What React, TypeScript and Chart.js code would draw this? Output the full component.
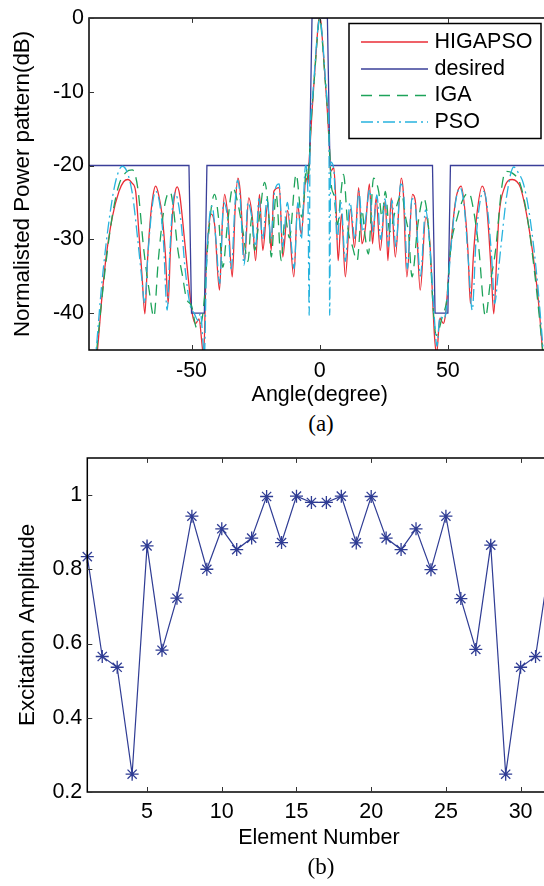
import { useEffect, useRef } from 'react';
import { Chart, registerables } from 'chart.js';

Chart.register(...registerables);

const FONT = "'Liberation Sans', Arial, Helvetica, sans-serif";
const FS = 21.5;
const FS_YT = 22.3;

// ---------- (a) power pattern: [angle (deg), normalised power (dB)] ----------
const higapso: [number, number][] = [
  [-89, -52], [-86.7, -45], [-85, -38], [-83.5, -32.9], [-80.9, -27], [-78.3, -23.5], [-76.5, -22.2], [-74.8, -21.9],
  [-73.2, -22.4], [-71.8, -23.5], [-70.5, -29.3], [-69.3, -35], [-68.2, -40.1], [-67.2, -33], [-66, -27], [-65, -24],
  [-64, -22.8], [-62.8, -24], [-61.4, -27], [-60.2, -32], [-59.1, -38.7], [-58.3, -32], [-57.5, -27], [-56.5, -23.8],
  [-55.6, -22.9], [-54.6, -24], [-53.6, -27], [-51.7, -33.8], [-49.7, -40.1], [-48.4, -41.4], [-47.1, -40.8],
  [-45.8, -44.6], [-45.3, -46], [-44.3, -33.8], [-43.3, -28.5], [-42.3, -26.6], [-41, -28], [-39.1, -36.9], [-38, -28],
  [-37.1, -23.9], [-35.8, -27], [-34.1, -35.1], [-33, -26], [-31.9, -21.7], [-31, -23.5], [-29.3, -32.9], [-27.7, -24.4],
  [-26.3, -27], [-25, -32.9], [-23.5, -23.9], [-22.2, -31.5], [-20.3, -25.2], [-18.9, -31.5], [-17.9, -23.5],
  [-15.7, -23], [-14.4, -32.4], [-12.5, -26.1], [-10.1, -35.1], [-8.6, -25.2], [-7.2, -29.3], [-5.3, -21.7],
  [-4.6, -22.5], [-4.2, -20], [-3.7, -17], [-3, -12.7], [-2.1, -8.2], [-1.2, -3.7], [-0.5, -0.6], [0, 0], [0.5, -0.6],
  [1.2, -3.7], [2.1, -8.2], [3, -12.7], [3.7, -17], [4.2, -20.8], [5.5, -20.3], [6.3, -25], [7.2, -32.9], [8.5, -26.6],
  [10, -35.1], [12, -25.9], [13.6, -31.1], [15.2, -23], [16.5, -30.6], [17.8, -28.5], [19.4, -22.5], [20.6, -30.6],
  [22, -24.4], [23.6, -31.5], [25.6, -24.8], [26.6, -32.9], [27.9, -24.4], [29.5, -32.4], [31.8, -21.7], [32.6, -23.5],
  [34, -35.1], [36.2, -23.9], [37.3, -24.8], [39.2, -36.9], [41.4, -27], [43, -30.6], [44.8, -43.2], [45.6, -45.5],
  [46.9, -40.7], [48.2, -41.4], [49.1, -40.1], [51, -31.5], [53, -24.8], [55.2, -22.8], [56.9, -27], [57.9, -32],
  [58.8, -38.7], [60, -32], [61.2, -27], [63.4, -22.8], [64.8, -24.5], [66, -29.3], [67, -35], [67.9, -40.1], [69, -33],
  [69.9, -27], [72.1, -23], [75.1, -21.9], [78.3, -23], [80.9, -27], [83.5, -32.9], [85.5, -39], [86.8, -44.6], [88, -50],
];

const iga: [number, number][] = [
  [-88.5, -50], [-87, -45], [-84, -35], [-81, -27], [-78.3, -22.6], [-75.5, -20.9], [-73.1, -20.6], [-71, -23],
  [-68.6, -31.5], [-66.5, -37], [-64.7, -40.5], [-63, -33], [-61.2, -27], [-59.5, -24], [-58.3, -23.6], [-57, -26],
  [-55.5, -31], [-53.5, -35], [-52, -38], [-50, -39], [-48, -42], [-46, -41], [-45, -38], [-43.5, -30], [-42, -25],
  [-41, -23.9], [-39.5, -27], [-37.8, -33.8], [-36, -28], [-33.9, -23], [-32, -25], [-30, -28.8], [-28, -33],
  [-26.5, -27], [-25.4, -31.5], [-23.5, -27], [-21.5, -22.3], [-20, -26], [-18.9, -32.4], [-17, -23.9], [-15, -32.9],
  [-13.5, -27], [-11.8, -29.8], [-9.2, -21.2], [-7, -27], [-6, -23.9], [-5.3, -20.3], [-4.5, -22], [-4, -19],
  [-3.5, -15], [-3, -12.3], [-2, -7.8], [-1, -3], [0, 0], [1, -3], [2, -7.8], [3, -12.3], [3.6, -16], [4, -19],
  [4.5, -22.6], [5.5, -24], [7, -28], [8.2, -24], [9.3, -21.2], [11, -28.5], [12.8, -31], [14.6, -32.9], [16.5, -26],
  [17.5, -29], [19, -32], [21, -21.7], [23, -23.5], [24.3, -27], [25.6, -23.5], [27.3, -29], [29.5, -26.1], [32, -23.9],
  [33.5, -27], [34.7, -29.3], [36, -35.1], [38.3, -28], [40.5, -24.4], [42.5, -28.5], [44.5, -40.5], [45.5, -43],
  [47.8, -40.5], [49.7, -37.8], [51, -31.5], [53.7, -27], [56, -24.5], [58.2, -23.7], [60, -26], [62, -31],
  [64.7, -40.5], [66.5, -36], [68.6, -31.5], [71, -23], [72.5, -20.8], [75, -21], [78.3, -22.6], [81, -27], [84, -35],
  [87, -45], [88.5, -50],
];

const pso: [number, number][] = [
  [-88.5, -50], [-87.2, -45], [-85, -36], [-82, -27], [-79.5, -22], [-77, -20.1], [-75, -21], [-73, -24], [-71, -30],
  [-69.5, -35], [-68.3, -38.7], [-67, -32], [-65.5, -26], [-64, -23.5], [-62.5, -25], [-61, -30], [-59.5, -39.6],
  [-58.5, -32], [-57.5, -26], [-56.5, -23.7], [-55.5, -24.5], [-54, -28], [-52.5, -34], [-50.5, -39], [-49, -40],
  [-47.5, -41], [-46.5, -40], [-45.5, -44], [-45, -46], [-44.2, -34], [-43, -27], [-42, -25.5], [-40.5, -30],
  [-39, -36], [-37.5, -25], [-36, -27], [-34.5, -34], [-33, -25], [-32, -22], [-31, -24.5], [-29.5, -33.5], [-28, -25],
  [-26.5, -27], [-25, -31], [-23.7, -24.5], [-22.3, -30], [-20.5, -24.5], [-19, -30], [-17.8, -24], [-15.8, -22.5],
  [-14.5, -31], [-12.6, -25], [-11, -31], [-10, -34], [-8.5, -25], [-7.2, -30], [-5.5, -20], [-4.6, -24],
  [-4.1, -40.3], [-3.8, -18], [-3.1, -12], [-2.1, -7.6], [-1.2, -3.3], [0, 0], [1.2, -3.3], [2.1, -7.6], [3.1, -12],
  [3.6, -16], [3.9, -40.3], [4.3, -19.5], [5.5, -20.5], [6.8, -30], [8.3, -25], [10, -33], [11.8, -25], [13.8, -30],
  [15.3, -23.5], [16.8, -29], [18, -27], [19.5, -23.3], [20.8, -29], [22.3, -24], [23.8, -30], [25.5, -24.5],
  [26.8, -31], [28.2, -24.7], [29.7, -31], [31.6, -22.5], [32.8, -24], [34.2, -34], [36, -24.5], [37.3, -25.5],
  [39.3, -35], [41.3, -26], [43, -31], [44.8, -41], [45.7, -44.5], [46.9, -40.5], [48.2, -40.8], [49.3, -39.8],
  [51, -32], [53, -25], [54.8, -23], [56.5, -26], [58, -33], [59.5, -39.6], [61, -30], [62.5, -25], [64, -23.5],
  [65.5, -26], [67, -32], [68.3, -38.7], [69.5, -35], [71, -30], [73, -24], [75.7, -20.2], [77.5, -21], [79.5, -22.5],
  [82, -27], [85, -36], [87.2, -45], [88.5, -50],
];

const desiredAngles = [-90, -51, -50, -45, -44, -4, -3, 3, 4, 44, 45, 50, 51, 90];
const desiredDb = [-20, -20, -40, -40, -20, -20, 0, 0, -20, -20, -40, -40, -20, -20];

const angleTicks = [-50, 0, 50];
const angleTickLabels = ['-50', '0', '50'];
const dbTicks = [-40, -30, -20, -10, 0];
const dbTickLabels = ['-40', '-30', '-20', '-10', '0'];

// ---------- (b) excitation amplitudes ----------
const elementNumbers = [1, 2, 3, 4, 5, 6, 7, 8, 9, 10, 11, 12, 13, 14, 15, 16, 17, 18, 19, 20, 21, 22, 23, 24, 25, 26, 27, 28, 29, 30, 31, 32];
const amplitudes = [
  0.834, 0.565, 0.536, 0.248, 0.863, 0.582, 0.722, 0.943, 0.8, 0.909, 0.853, 0.884, 0.996, 0.872, 0.997, 0.98,
  0.98, 0.997, 0.871, 0.996, 0.884, 0.853, 0.909, 0.799, 0.943, 0.721, 0.584, 0.865, 0.248, 0.536, 0.565, 0.834,
];
const elementTicks = [5, 10, 15, 20, 25, 30];
const elementTickLabels = ['5', '10', '15', '20', '25', '30'];
const amplitudeTicks = [0.2, 0.4, 0.6, 0.8, 1];
const amplitudeTickLabels = ['0.2', '0.4', '0.6', '0.8', '1'];

const RED = '#ea2d36';
const NAVY = '#3a3f99';
const GREEN = '#1da35a';
const CYAN = '#27b3de';
const LINE_B = '#2f3c94';

const font = { family: FONT, size: FS };
const fontYT = { family: FONT, size: FS_YT };

const framePlugin = {
  id: 'frame',
  afterDatasetsDraw(chart: any) {
    const { ctx, chartArea } = chart;
    const { left, right, top, bottom } = chartArea;
    const xs = chart.scales.x;
    const ys = chart.scales.y;
    ctx.save();
    ctx.strokeStyle = '#000';
    ctx.lineWidth = 1.5;
    ctx.beginPath();
    ctx.moveTo(left, top);
    ctx.lineTo(right, top);
    ctx.lineTo(right, bottom);
    ctx.lineTo(left, bottom);
    ctx.closePath();
    ctx.stroke();
    ctx.lineWidth = 1;
    ctx.strokeStyle = '#333';
    const tl = 5;
    ctx.beginPath();
    xs.ticks.forEach((t: any) => {
      const p = Math.round(xs.getPixelForValue(t.value)) + 0.5;
      ctx.moveTo(p, bottom);
      ctx.lineTo(p, bottom - tl);
      ctx.moveTo(p, top);
      ctx.lineTo(p, top + tl);
    });
    ys.ticks.forEach((t: any) => {
      const p = Math.round(ys.getPixelForValue(t.value)) + 0.5;
      ctx.moveTo(left, p);
      ctx.lineTo(left + tl, p);
      ctx.moveTo(right, p);
      ctx.lineTo(right - tl, p);
    });
    ctx.stroke();
    ctx.restore();
  },
};

const legendPlugin = {
  id: 'boxLegend',
  afterDraw(chart: any) {
    const { ctx } = chart;
    const bx = 349, by = 23.5, bw = 192, bh = 115;
    const rows = [42, 69, 95.5, 122];
    const lx0 = 361, lx1 = 428, tx = 434.5;
    ctx.save();
    ctx.fillStyle = '#fff';
    ctx.fillRect(bx, by, bw, bh);
    ctx.strokeStyle = '#000';
    ctx.lineWidth = 1.5;
    ctx.strokeRect(bx, by, bw, bh);
    chart.data.datasets.forEach((ds: any, i: number) => {
      const y = rows[i];
      ctx.beginPath();
      ctx.strokeStyle = ds.borderColor;
      ctx.lineWidth = ds.borderWidth;
      ctx.setLineDash(ds.borderDash || []);
      ctx.moveTo(lx0, y);
      ctx.lineTo(lx1, y);
      ctx.stroke();
      ctx.setLineDash([]);
      ctx.fillStyle = '#000';
      ctx.font = `${FS}px ${FONT}`;
      ctx.textBaseline = 'middle';
      ctx.textAlign = 'left';
      ctx.fillText(ds.label, tx, y);
    });
    ctx.restore();
  },
};

function topConfig(): any {
  return {
    type: 'line',
    data: {
      datasets: [
        { label: 'HIGAPSO', data: higapso.map(([x, y]) => ({ x, y })), borderColor: RED, borderWidth: 1.3, pointRadius: 0, cubicInterpolationMode: 'monotone', order: 4 },
        { label: 'desired', data: desiredAngles.map((x, i) => ({ x, y: desiredDb[i] })), borderColor: NAVY, borderWidth: 1.3, pointRadius: 0, tension: 0, order: 3 },
        { label: 'IGA', data: iga.map(([x, y]) => ({ x, y })), borderColor: GREEN, borderWidth: 1.3, borderDash: [11, 7], pointRadius: 0, cubicInterpolationMode: 'monotone', order: 2 },
        { label: 'PSO', data: pso.map(([x, y]) => ({ x, y })), borderColor: CYAN, borderWidth: 1.3, borderDash: [12, 4, 2, 4], pointRadius: 0, cubicInterpolationMode: 'monotone', order: 1 },
      ],
    },
    options: {
      animation: false,
      responsive: false,
      maintainAspectRatio: false,
      layout: { padding: { top: 16, right: 9.6, left: 0, bottom: 0 } },
      plugins: { legend: { display: false }, tooltip: { enabled: false } },
      scales: {
        x: {
          type: 'linear', min: -90, max: 90,
          afterBuildTicks: (s: any) => { s.ticks = angleTicks.map((v) => ({ value: v })); },
          afterFit: (s: any) => { s.height = 60; },
          grid: { display: false, drawTicks: false },
          border: { display: false },
          ticks: { padding: 8, font, color: '#000', callback: (_v: any, i: number) => angleTickLabels[i] },
          title: { display: true, text: 'Angle(degree)', font, color: '#000', padding: { top: 0, bottom: 1.6 } },
        },
        y: {
          type: 'linear', min: -45, max: 0,
          afterBuildTicks: (s: any) => { s.ticks = dbTicks.map((v) => ({ value: v })); },
          afterFit: (s: any) => { s.width = 89; },
          grid: { display: false, drawTicks: false },
          border: { display: false },
          ticks: { padding: 5, font, color: '#000', callback: (_v: any, i: number) => dbTickLabels[i] },
          title: { display: true, text: 'Normalisted Power pattern(dB)', font: fontYT, color: '#000', padding: { top: 9.8, bottom: 0 } },
        },
      },
    },
    plugins: [framePlugin, legendPlugin],
  };
}

function bottomConfig(): any {
  return {
    type: 'line',
    data: {
      datasets: [
        {
          label: 'Excitation Amplitude',
          data: elementNumbers.map((x, i) => ({ x, y: amplitudes[i] })),
          borderColor: LINE_B, borderWidth: 1.2, tension: 0,
          pointStyle: 'star', pointRadius: 6.5, pointBorderColor: LINE_B, pointBorderWidth: 1.3, pointBackgroundColor: LINE_B,
          clip: false,
        },
      ],
    },
    options: {
      animation: false,
      responsive: false,
      maintainAspectRatio: false,
      layout: { padding: { top: 12, right: 9.5, left: 0, bottom: 0 } },
      plugins: { legend: { display: false }, tooltip: { enabled: false } },
      scales: {
        x: {
          type: 'linear', min: 1, max: 32,
          afterBuildTicks: (s: any) => { s.ticks = elementTicks.map((v) => ({ value: v })); },
          afterFit: (s: any) => { s.height = 68; },
          grid: { display: false, drawTicks: false },
          border: { display: false },
          ticks: { padding: 7, font, color: '#000', callback: (_v: any, i: number) => elementTickLabels[i] },
          title: { display: true, text: 'Element Number', font, color: '#000', padding: { top: 0, bottom: 9.5 } },
        },
        y: {
          type: 'linear', min: 0.2, max: 1.1,
          afterBuildTicks: (s: any) => { s.ticks = amplitudeTicks.map((v) => ({ value: v })); },
          afterFit: (s: any) => { s.width = 87.3; },
          grid: { display: false, drawTicks: false },
          border: { display: false },
          ticks: { padding: 5, font, color: '#000', callback: (_v: any, i: number) => amplitudeTickLabels[i] },
          title: { display: true, text: 'Excitation Amplitude', font: fontYT, color: '#000', padding: { top: 14.2, bottom: 0 } },
        },
      },
    },
    plugins: [framePlugin],
  };
}

const captionStyle = (top: number): any => ({
  position: 'absolute', left: 271, top, width: 100, textAlign: 'center',
  fontFamily: "'Liberation Serif', 'Times New Roman', serif", fontSize: 23, lineHeight: '23px', color: '#000',
});

export default function App() {
  const topRef = useRef<HTMLCanvasElement>(null);
  const botRef = useRef<HTMLCanvasElement>(null);
  useEffect(() => {
    const c1 = new Chart(topRef.current as HTMLCanvasElement, topConfig());
    const c2 = new Chart(botRef.current as HTMLCanvasElement, bottomConfig());
    return () => { c1.destroy(); c2.destroy(); };
  }, []);
  return (
    <div style={{ position: 'fixed', left: 0, top: 0, width: 544, height: 886, overflow: 'hidden', background: '#fff' }}>
      <canvas ref={topRef} width={560} height={410} style={{ position: 'absolute', left: 0, top: 0, width: 560, height: 410 }} />
      <div style={captionStyle(411.6)}>(a)</div>
      <canvas ref={botRef} width={560} height={420} style={{ position: 'absolute', left: 0, top: 440, width: 560, height: 420 }} />
      <div style={captionStyle(854.5)}>(b)</div>
    </div>
  );
}
